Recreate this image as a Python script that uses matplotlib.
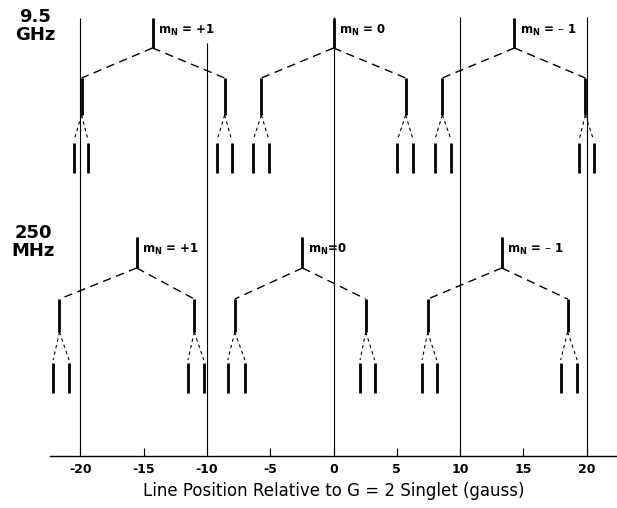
import matplotlib.pyplot as plt
import numpy as np

# line positions (gauss)
mn_labels = ["+1", "0", "-1"]

ghz_center = [-14.3, 0.0, 14.3]
ghz_mid = [[-19.9, -8.6], [-5.7, 5.7], [8.6, 19.9]]
ghz_outer = [[[-20.5, -19.4], [-9.2, -8.05]],
             [[-6.35, -5.1], [5.05, 6.3]],
             [[8.0, 9.3], [19.4, 20.55]]]

mhz_center = [-15.55, -2.45, 13.3]
mhz_mid = [[-21.65, -11.0], [-7.8, 2.55], [7.45, 18.5]]
mhz_outer = [[[-22.15, -20.9], [-11.5, -10.25]],
             [[-8.35, -7.0], [2.1, 3.25]],
             [[7.0, 8.15], [17.95, 19.25]]]

ref_lines = [-20, -10, 0, 10, 20]
ref_tops = [438, 413, 439, 439, 439]
tick_pos = [-20, -15, -10, -5, 0, 5, 10, 15, 20]
tick_labels = ["-20", "-15", "-10", "-5", "0", "5", "10", "15", "20"]

fig = plt.figure(figsize=(6.17, 5.08), dpi=100)
ax = fig.add_axes([50 / 617, 52 / 508, 1 - 50 / 617, 456 / 508])
ax.set_xlim(-22.4, 22.4)
ax.set_ylim(0, 456)

for x, top in zip(ref_lines, ref_tops):
    ax.vlines(x, 0, top, color='black', lw=0.8)


def draw_panel(center, mid, outer, levels, labels):
    c_top, c_bot, m_top, m_bot, o_top, o_bot = levels
    for i in range(len(center)):
        ax.vlines(center[i], c_bot, c_top, color='black', lw=2.0)
        ax.text(center[i] + 0.4, (c_top + c_bot) / 2 + 3, labels[i],
                fontsize=8.5, fontweight='bold', va='center', ha='left')
        for j in range(2):
            ax.plot([center[i], mid[i][j]], [c_bot, m_top], color='black',
                    lw=1.0, dashes=(6, 4))
            ax.vlines(mid[i][j], m_bot, m_top, color='black', lw=2.0)
            for k in range(2):
                ax.plot([mid[i][j], outer[i][j][k]], [m_bot, o_top + 3],
                        color='black', lw=0.8, dashes=(3, 3))
                ax.vlines(outer[i][j][k], o_bot, o_top, color='black', lw=2.0)


ghz_text = [r"m$_\mathregular{N}$ = " + s.replace("-", "\u2013 ") for s in mn_labels]
mhz_text = [r"m$_\mathregular{N}$ = +1", r"m$_\mathregular{N}$=0",
            r"m$_\mathregular{N}$ = " + "\u2013 1"]

draw_panel(ghz_center, ghz_mid, ghz_outer, (438, 408, 378, 341, 313, 283), ghz_text)
draw_panel(mhz_center, mhz_mid, mhz_outer, (219, 188, 157, 124, 93, 63), mhz_text)

fig.text(35 / 617, 1 - 26 / 508, "9.5\nGHz", fontsize=13, fontweight='bold',
         ha='center', va='center', linespacing=0.95)
fig.text(33 / 617, 1 - 242 / 508, "250\nMHz", fontsize=13, fontweight='bold',
         ha='center', va='center', linespacing=0.95)

for s in ['top', 'left', 'right']:
    ax.spines[s].set_visible(False)
ax.spines['bottom'].set_linewidth(1.0)
ax.set_yticks([])
ax.set_xticks(tick_pos)
ax.set_xticklabels(tick_labels, fontsize=9, fontweight='bold')
ax.tick_params(axis='x', direction='in', length=6, width=0.8, pad=5)
ax.set_xlabel("Line Position Relative to G = 2 Singlet (gauss)", fontsize=12,
              labelpad=4)

plt.savefig('out.png', dpi=100)
plt.close()
